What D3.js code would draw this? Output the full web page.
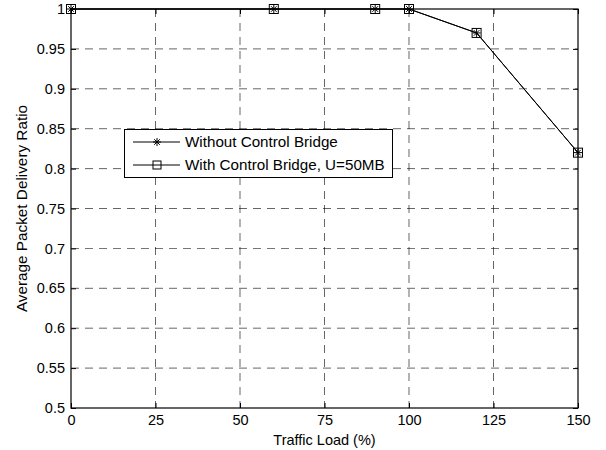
<!DOCTYPE html>
<html><head><meta charset="utf-8">
<script src="https://cdn.jsdelivr.net/npm/d3@7"></script>
<style>body{margin:0;background:#fff}svg{display:block}text{font-family:"Liberation Sans",Arial,sans-serif}</style>
</head><body>
<svg id="c" width="606" height="450"></svg>
<script>
const traffic = [0, 60, 90, 100, 120, 150];
const withoutBridge = [1, 1, 1, 1, 0.97, 0.82];
const withBridge = [1, 1, 1, 1, 0.97, 0.82];
const xTicks = [0, 25, 50, 75, 100, 125, 150];
const yTicks = [0.5, 0.55, 0.6, 0.65, 0.7, 0.75, 0.8, 0.85, 0.9, 0.95, 1];
const seriesNames = ["Without Control Bridge", "With Control Bridge, U=50MB"];

const FS = 14.5;
const svg = d3.select("#c");
const L = 71, R = 578, T = 9, B = 408;
const x = d3.scaleLinear().domain([0,150]).range([L,R]);
const y = d3.scaleLinear().domain([0.5,1]).range([B,T]);

// grid
const g = svg.append("g");
g.selectAll(".gx").data(xTicks.slice(1,-1)).enter().append("line")
  .attr("x1",d=>x(d)).attr("x2",d=>x(d)).attr("y1",T).attr("y2",B)
  .attr("stroke","#000").attr("stroke-dasharray","8,6").attr("stroke-width",0.8).attr("opacity",0.75);
g.selectAll(".gy").data(yTicks.slice(1,-1)).enter().append("line")
  .attr("y1",d=>y(d)).attr("y2",d=>y(d)).attr("x1",L).attr("x2",R)
  .attr("stroke","#000").attr("stroke-dasharray","8,6").attr("stroke-width",0.8).attr("opacity",0.75);

// axes
const xa = svg.append("g").attr("transform",`translate(0,${B})`)
  .call(d3.axisBottom(x).tickValues(xTicks).tickSize(-5).tickPadding(7).tickFormat(d3.format("d")));
const xa2 = svg.append("g").attr("transform",`translate(0,${T})`)
  .call(d3.axisTop(x).tickValues(xTicks).tickSize(-5).tickFormat(""));
const ya = svg.append("g").attr("transform",`translate(${L},0)`)
  .call(d3.axisLeft(y).tickValues(yTicks).tickSize(-5).tickPadding(6).tickFormat(d=>String(+d.toFixed(2))));
const ya2 = svg.append("g").attr("transform",`translate(${R},0)`)
  .call(d3.axisRight(y).tickValues(yTicks).tickSize(-5).tickFormat(""));
[xa,xa2,ya,ya2].forEach(a=>{
  a.select(".domain").remove();
  a.selectAll("line").attr("stroke","#000");
  a.selectAll("text").attr("font-size",FS).attr("fill","#000").style("font-family","Liberation Sans, Arial, sans-serif");
});
svg.append("rect").attr("x",L).attr("y",T).attr("width",R-L).attr("height",B-T)
  .attr("fill","none").attr("stroke","#000").attr("stroke-width",1.2);

// lines
const line = d3.line().x((d,i)=>x(traffic[i])).y(d=>y(d));
svg.append("path").datum(withoutBridge).attr("d",line).attr("fill","none").attr("stroke","#000").attr("stroke-width",1);
svg.append("path").datum(withBridge).attr("d",line).attr("fill","none").attr("stroke","#000").attr("stroke-width",1);

function star(sel, cx, cy, r){
  const p = sel.append("g").attr("transform",`translate(${cx},${cy})`).attr("stroke","#000").attr("stroke-width",1);
  p.append("line").attr("x1",-r).attr("x2",r).attr("y1",0).attr("y2",0);
  p.append("line").attr("y1",-r).attr("y2",r).attr("x1",0).attr("x2",0);
  const d = r*0.7;
  p.append("line").attr("x1",-d).attr("x2",d).attr("y1",-d).attr("y2",d);
  p.append("line").attr("x1",-d).attr("x2",d).attr("y1",d).attr("y2",-d);
}
function square(sel, cx, cy, r){
  sel.append("rect").attr("x",cx-r).attr("y",cy-r).attr("width",2*r).attr("height",2*r)
    .attr("fill","none").attr("stroke","#000").attr("stroke-width",1);
}
withoutBridge.forEach((v,i)=>star(svg, x(traffic[i]), y(v), 4));
withBridge.forEach((v,i)=>square(svg, x(traffic[i]), y(v), 4.5));

// labels
svg.append("text").attr("x",(L+R)/2).attr("y",445).attr("text-anchor","middle").attr("font-size",FS).text("Traffic Load (%)");
svg.append("text").attr("transform",`translate(27,${(T+B)/2}) rotate(-90)`).attr("text-anchor","middle").attr("font-size",15.3).text("Average Packet Delivery Ratio");

// legend
const lg = svg.append("g");
lg.append("rect").attr("x",124.5).attr("y",129.5).attr("width",268).attr("height",48).attr("fill","#fff").attr("stroke","#000");
const ly = [142, 165];
seriesNames.forEach((n,i)=>{
  lg.append("line").attr("x1",133).attr("x2",180).attr("y1",ly[i]).attr("y2",ly[i]).attr("stroke","#000");
  if(i===0) star(lg, 157, ly[i], 4); else square(lg, 157, ly[i], 4);
  lg.append("text").attr("x",185).attr("y",ly[i]+5).attr("font-size",15.2).text(n);
});
</script>
</body></html>
